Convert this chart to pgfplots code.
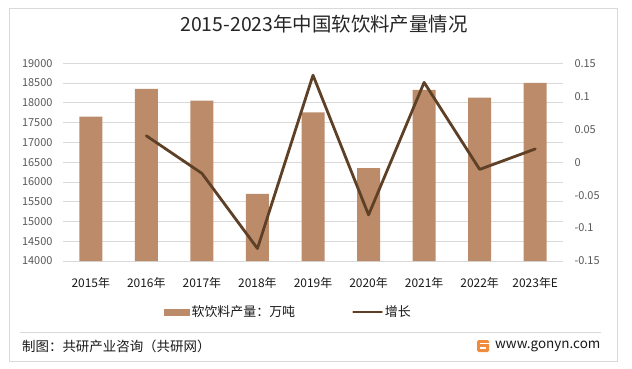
\documentclass[border=0pt]{standalone}
\usepackage{pgfplots}
\pgfplotsset{compat=1.18}
\usepackage{fontspec}
\setmainfont{Noto Sans CJK SC}
\definecolor{barcol}{RGB}{188,140,106}
\definecolor{linecol}{RGB}{94,64,38}
\definecolor{gridcol}{RGB}{217,217,217}
\definecolor{tickcol}{RGB}{89,89,89}
\definecolor{framecol}{RGB}{217,217,217}
\definecolor{logocol}{RGB}{240,140,60}
\begin{document}
\begin{tikzpicture}[x=1bp,y=1bp]
\fill[white] (0,0) rectangle (632,368);
\useasboundingbox (0,0) rectangle (632,368);
\draw[framecol, line width=0.8bp] (9,7) rectangle (617,360);
\draw[framecol, line width=0.8bp] (20,36) -- (601,36);
\node[anchor=center, inner sep=0pt, font=\fontsize{19.5}{23}\selectfont, text=black!85] at (324,344) {2015-2023年中国软饮料产量情况};
\node[anchor=west, inner sep=0pt, font=\fontsize{13.5}{16}\selectfont, text=black!90] at (22,22) {制图：共研产业咨询（共研网）};
\fill[logocol, rounded corners=1.5bp] (477,16) rectangle (489,28);
\fill[white] (480,19) rectangle (486,21.5);
\fill[white] (480,24) rectangle (489,25.5);
\node[anchor=west, inner sep=0pt, font=\fontsize{13.5}{16}\selectfont, text=black!90] at (495,22) {www.gonyn.com};

\begin{axis}[
  at={(63bp,107bp)}, anchor=south west, scale only axis,
  width=500bp, height=197.7bp,
  xmin=-0.5, xmax=8.5, ymin=14000, ymax=19000,
  scaled y ticks=false,
  xtick={0,1,2,3,4,5,6,7,8},
  xticklabels={2015年,2016年,2017年,2018年,2019年,2020年,2021年,2022年,2023年E},
  ytick={14000,14500,15000,15500,16000,16500,17000,17500,18000,18500,19000},
  yticklabels={14000,14500,15000,15500,16000,16500,17000,17500,18000,18500,19000},
  axis line style={draw=none},
  major tick length=0pt,
  ymajorgrids, grid style={gridcol, line width=0.8bp},
  y tick label style={font=\fontsize{11}{13}\selectfont, text=tickcol, anchor=east, xshift=-7bp},
  x tick label style={font=\fontsize{12}{14}\selectfont, text=black!90, yshift=-13bp},
]
\addplot[ybar, bar width=23bp, fill=barcol, draw=none] coordinates {
(0,17650) (1,18356) (2,18058) (3,15700) (4,17760) (5,16350) (6,18330) (7,18134) (8,18507)};
\end{axis}

\begin{axis}[
  at={(63bp,107bp)}, anchor=south west, scale only axis,
  width=500bp, height=197.7bp,
  xmin=-0.5, xmax=8.5, ymin=-0.15, ymax=0.15,
  scaled y ticks=false,
  axis x line=none, axis y line*=right,
  axis line style={draw=none},
  major tick length=0pt,
  ytick={-0.15,-0.1,-0.05,0,0.05,0.1,0.15},
  yticklabels={-0.15,-0.1,-0.05,0,0.05,0.1,0.15},
  y tick label style={font=\fontsize{11}{13}\selectfont, text=tickcol, anchor=west, xshift=8bp},
  legend style={at={(0.451,-0.258)}, anchor=center, draw=none, fill=none,
    font=\fontsize{13}{15}\selectfont, text=black!90,
    /tikz/every even column/.append style={column sep=55bp}},
  legend columns=2, legend cell align=left,
]
\addlegendimage{legend image code/.code={\fill[barcol] (0bp,-3bp) rectangle (25bp,3bp);}}
\addlegendentry{软饮料产量：万吨}
\addplot[linecol, line width=2.8bp, line join=round, line cap=round,
  legend image code/.code={\draw[linecol, line width=2.8bp] (0bp,0bp) -- (28bp,0bp);}]
  coordinates {(1,0.040) (2,-0.017) (3,-0.131) (4,0.132) (5,-0.080) (6,0.121) (7,-0.011) (8,0.020)};
\addlegendentry{增长}
\end{axis}
\end{tikzpicture}
\end{document}
